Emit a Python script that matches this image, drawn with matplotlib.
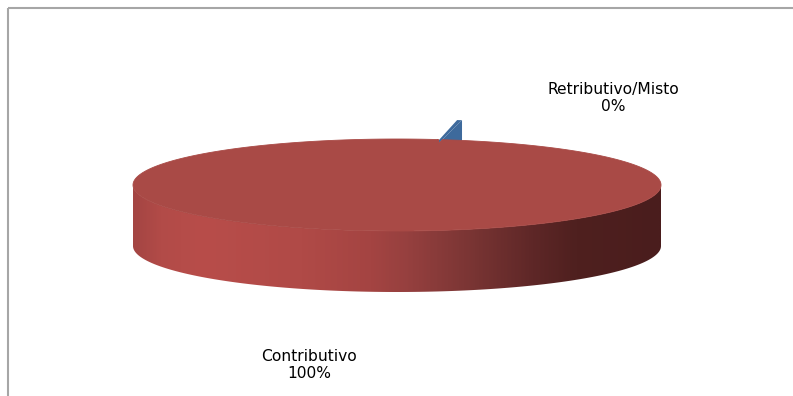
import numpy as np
import matplotlib.pyplot as plt
from matplotlib.patches import Polygon, Rectangle
from matplotlib.colors import LinearSegmentedColormap

# dados
labels = ['Retributivo/Misto', 'Contributivo']
values = [0.3, 99.7]
pct_labels = ['0%', '100%']
colors = ['#3E6A9C', '#A94A46']
explode = [0.43, 0.0]

# geometria da torta 3D (em pixels)
cx, cy = 397, 185
a, b = 264, 46
depth = 61
start_angle = 81.0


def rim(t, ox=0.0, oy=0.0, dz=0.0):
    t = np.radians(t)
    return cx + ox + a * np.cos(t), cy + oy - b * np.sin(t) + dz


fig = plt.figure(figsize=(7.93, 3.96), dpi=100)
ax = fig.add_axes([0, 0, 1, 1])
ax.set_xlim(0, 793)
ax.set_ylim(396, 0)
ax.axis('off')

# moldura
ax.add_patch(Rectangle((7.5, 7.5), 820, 420, fill=False, ec='#A6A6A6', lw=1.5))

# angulos das fatias (sentido horario a partir de start_angle)
total = sum(values)
angles = []
ang = start_angle
for v in values:
    span = 360.0 * v / total
    angles.append((ang - span, ang))
    ang -= span

# fatia azul (explodida, atras)
lo, hi = angles[0]
mid = np.radians((lo + hi) / 2)
ox = explode[0] * a * np.cos(mid)
oy = -explode[0] * b * np.sin(mid)
xr, yr = rim(lo, ox, oy)
side = [(cx + ox, cy + oy), (xr, yr), (xr, yr + depth), (cx + ox, cy + oy + depth)]
ax.add_patch(Polygon(side, closed=True, fc=colors[0], ec='none'))
ts = np.linspace(lo, hi, 10)
top = [(cx + ox, cy + oy)] + [rim(t, ox, oy) for t in ts]
ax.add_patch(Polygon(top, closed=True, fc=colors[0], ec='none'))

# fatia vermelha
lo, hi = angles[1]
# faces radiais (fecham o entalhe no topo)
for edge in (lo, hi):
    xr, yr = rim(edge)
    face = [(cx, cy), (xr, yr), (xr, yr + depth), (cx, cy + depth)]
    ax.add_patch(Polygon(face, closed=True, fc=colors[1], ec=colors[1], lw=1.2))

# lateral frontal com gradiente
tf = np.linspace(180, 360, 200)
upper = [rim(t) for t in tf]
lower = [rim(t, dz=depth) for t in tf[::-1]]
side_poly = Polygon(upper + lower, closed=True, fc='none', ec='none')
ax.add_patch(side_poly)
stops = [(0.0, '#A44543'), (0.05, '#B24B48'), (0.13, '#B84D4A'),
         (0.32, '#B04A47'), (0.45, '#A44442'), (0.52, '#96403F'),
         (0.64, '#7A3534'), (0.76, '#5E2727'), (0.84, '#4F201F'),
         (1.0, '#4A1D1D')]
cmap = LinearSegmentedColormap.from_list('lado', stops)
grad = np.linspace(0, 1, 400)[None, :]
img = ax.imshow(grad, cmap=cmap, aspect='auto',
                extent=(cx - a, cx + a, cy + depth + b + 2, cy - 2),
                interpolation='bilinear', zorder=1)
img.set_clip_path(side_poly)

# topo
ts = np.linspace(lo, hi, 400)
top = [(cx, cy)] + [rim(t) for t in ts]
ax.add_patch(Polygon(top, closed=True, fc=colors[1], ec=colors[1], lw=0.6,
                     zorder=2))

# rotulos
label_pos = [(613, 98), (309, 365)]
for (x, y), lab, pct in zip(label_pos, labels, pct_labels):
    ax.text(x, y, lab + '\n' + pct, ha='center', va='center',
            fontsize=11.2, color='#000000', linespacing=1.2)

fig.savefig('out.png', dpi=100)
